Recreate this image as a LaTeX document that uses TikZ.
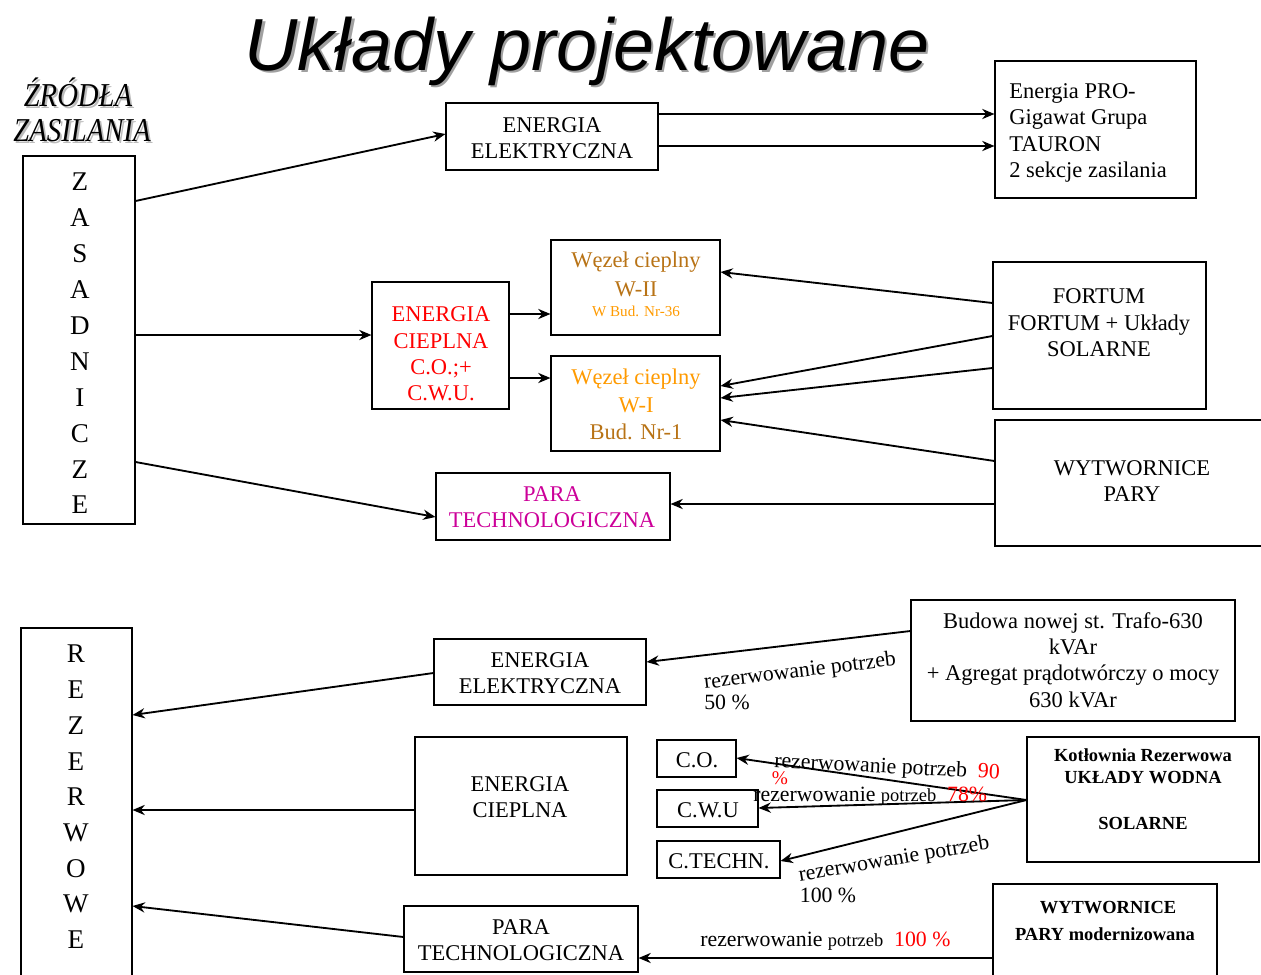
\documentclass[tikz,border=0pt]{standalone}
\usepackage{fontspec}
\setmainfont{Liberation Serif}
\newfontfamily\titlesans{Liberation Sans}
\usetikzlibrary{fit,arrows.meta}
\definecolor{tred}{HTML}{FF0000}
\definecolor{tmag}{HTML}{CC0099}
\definecolor{tbrown}{HTML}{B87316}
\definecolor{torange}{HTML}{FF9A00}
\definecolor{shadowgray}{HTML}{A0A0A0}
\begin{document}
\begin{tikzpicture}[x=0.02cm,y=-0.02cm,
  box/.style={draw,line width=0.6pt,inner sep=0pt},
  txt/.style={align=center,inner sep=0pt,font=\fontsize{12.8}{15}\selectfont},
  bold/.style={align=center,inner sep=0pt,font=\fontsize{10.5}{13}\selectfont\bfseries},
  colletter/.style={inner sep=0pt,font=\fontsize{15.4}{18}\selectfont},
  lbl/.style={inner sep=0pt,font=\fontsize{12.4}{14}\selectfont},
  arr/.style={line width=1.05pt,-{Stealth[length=7pt,width=5.8pt]}},
  ]
\useasboundingbox (0,0) rectangle (1261,974);

% ---------- titles ----------
\node[inner sep=0pt,anchor=base,text=shadowgray,font=\titlesans\itshape\fontsize{42}{46}\selectfont] (titleshadow) at (589.5,72.5) {Układy projektowane};
\node[inner sep=0pt,anchor=base,font=\titlesans\itshape\fontsize{42}{46}\selectfont] (title) at (587,70) {Układy projektowane};
\node[inner sep=0pt,anchor=base,xscale=0.86,text=shadowgray!70,font=\itshape\fontsize{19}{20}\selectfont] (zr1s) at (80,108) {ŹRÓDŁA};
\node[inner sep=0pt,anchor=base,xscale=0.86,font=\itshape\fontsize{19}{20}\selectfont] (zr1) at (78,106) {ŹRÓDŁA};
\node[inner sep=0pt,anchor=base,xscale=0.86,text=shadowgray!70,font=\itshape\fontsize{19}{20}\selectfont] (zr2s) at (84,143) {ZASILANIA};
\node[inner sep=0pt,anchor=base,xscale=0.86,font=\itshape\fontsize{19}{20}\selectfont] (zr2) at (82,141) {ZASILANIA};

% ---------- upper part: boxes ----------
\node[box,fit={(23,156) (135,524)}] (zas) {};
\foreach \l [count=\i] in {Z,A,S,A,D,N,I,C,Z,E}
  \node[colletter] (zl\i) at (80,{182+(\i-1)*35.9}) {\l};

\node[box,fit={(446,103) (658,170)}] (ee1) {};
\node[txt] (ee1t) at (552,138) {ENERGIA\\ELEKTRYCZNA};

\node[box,fit={(995,61) (1196,198)}] (epro) {};
\node[txt,align=left,anchor=west] (eprot) at (1009,133) {Energia PRO-\\Gigawat Grupa\\TAURON\\2 sekcje zasilania};

\node[box,fit={(372,282) (509,409)}] (ec1) {};
\node[txt,text=tred] (ec1t) at (441,354) {ENERGIA\\CIEPLNA\\C.O.;+\\C.W.U.};

\node[box,fit={(551,240) (720,335)}] (w2) {};
\node[txt,text=tbrown] (w2a) at (636,262) {Węzeł cieplny};
\node[txt,text=tbrown] (w2b) at (636,289) {W-II};
\node[inner sep=0pt,text=torange,font=\fontsize{8.6}{10}\selectfont] (w2c) at (636,311) {W Bud. Nr-36};

\node[box,fit={(551,356) (720,451)}] (w1) {};
\node[txt,text=torange] (w1a) at (636,379) {Węzeł cieplny};
\node[txt,text=torange] (w1b) at (636,405) {W-I};
\node[txt,text=tbrown] (w1c) at (636,432) {Bud. Nr-1};

\node[box,fit={(993,262) (1206,409)}] (fort) {};
\node[txt] (fortt) at (1099,323) {FORTUM\\FORTUM + Układy\\SOLARNE};

\node[box,fit={(995,420) (1280,546)}] (wyt1) {};
\node[txt] (wyt1t) at (1132,481) {WYTWORNICE\\PARY};

\node[box,fit={(436,473) (670,540)}] (para1) {};
\node[txt,text=tmag] (para1t) at (552,507) {PARA\\TECHNOLOGICZNA};

% ---------- upper part: connectors ----------
\draw[arr] (zas.east |- 0,201) -- (ee1.west |- 0,134);
\draw[arr] (ee1.east |- 0,114) -- (epro.west |- 0,114);
\draw[arr] (ee1.east |- 0,146) -- (epro.west |- 0,146);
\draw[arr] (zas.east |- 0,335) -- (ec1.west |- 0,335);
\draw[arr] (ec1.east |- 0,314) -- (w2.west |- 0,314);
\draw[arr] (ec1.east |- 0,378) -- (w1.west |- 0,378);
\draw[arr] (fort.west |- 0,303) -- (w2.east |- 0,272);
\draw[arr] (fort.west |- 0,336) -- (w1.east |- 0,386);
\draw[arr] (fort.west |- 0,368) -- (w1.east |- 0,398);
\draw[arr] (wyt1.west |- 0,461) -- (w1.east |- 0,420);
\draw[arr] (wyt1.west |- 0,504) -- (para1.east |- 0,504);
\draw[arr] (zas.east |- 0,462) -- (para1.west |- 0,517);

% ---------- lower part: boxes ----------
\node[box,fit={(21,628) (132,990)}] (rez) {};
\foreach \l [count=\i] in {R,E,Z,E,R,W,O,W,E}
  \node[colletter] (rl\i) at (76,{654+(\i-1)*35.75}) {\l};

\node[box,fit={(434,639) (646,705)}] (ee2) {};
\node[txt] (ee2t) at (540,673) {ENERGIA\\ELEKTRYCZNA};

\node[box,fit={(911,600) (1235,721)}] (bud) {};
\node[txt] (budt) at (1073,660) {Budowa nowej st. Trafo-630\\kVAr\\+ Agregat prądotwórczy o mocy\\630 kVAr};

\node[box,fit={(415,737) (627,875)}] (ec2) {};
\node[txt] (ec2t) at (520,797) {ENERGIA\\CIEPLNA};

\node[box,fit={(657,740) (736,777)}] (co) {};
\node[txt] (cot) at (697,760) {C.O.};
\node[box,fit={(657,790) (758,827)}] (cwu) {};
\node[txt] (cwut) at (708,810) {C.W.U};
\node[box,fit={(657,841) (780,878)}] (ctech) {};
\node[txt] (ctecht) at (719,861) {C.TECHN.};

\node[box,fit={(1027,737) (1259,862)}] (kot) {};
\node[bold] (kota) at (1143,755) {Kotłownia Rezerwowa};
\node[bold] (kotb) at (1143,778) {UKŁADY WODNA};
\node[bold] (kotc) at (1143,823) {SOLARNE};

\node[box,fit={(993,884) (1217,990)}] (wyt2) {};
\node[bold] (wyt2a) at (1108,908) {WYTWORNICE};
\node[bold] (wyt2b) at (1105,934) {PARY modernizowana};

\node[box,fit={(404,906) (638,972)}] (para2) {};
\node[txt] (para2t) at (521,940) {PARA\\TECHNOLOGICZNA};

% ---------- lower part: connectors ----------
\draw[arr] (ee2.west |- 0,673) -- (rez.east |- 0,715);
\draw[arr] (bud.west |- 0,631) -- (ee2.east |- 0,662);
\draw[arr] (ec2.west |- 0,810) -- (rez.east |- 0,810);
\draw[arr] (kot.west |- 0,800) -- (co.east |- 0,758);
\draw[arr] (kot.west |- 0,800) -- (cwu.east |- 0,808);
\draw[arr] (kot.west |- 0,800) -- (ctech.east |- 0,861);
\draw[arr] (wyt2.west |- 0,958) -- (para2.east |- 0,958);
\draw[arr] (para2.west |- 0,937) -- (rez.east |- 0,906);

% ---------- connector labels ----------
\node[lbl,rotate=7] (l1) at (800,672) {rezerwowanie potrzeb};
\node[lbl] (l1b) at (727,702) {50 \%};
\node[lbl,rotate=-3,anchor=west] (l2) at (774,762) {rezerwowanie potrzeb \ \textcolor{tred}{90}};
\node[lbl,text=tred,font=\fontsize{11}{12}\selectfont] (l2b) at (780,778) {\%};
\node[lbl,anchor=west] (l3) at (753,796) {rezerwowanie {\fontsize{10.5}{12}\selectfont potrzeb}\ \ \textcolor{tred}{78\%}};
\node[lbl,rotate=9.6] (l4) at (894,860) {rezerwowanie potrzeb};
\node[lbl] (l4b) at (828,895) {100 \%};
\node[lbl,anchor=west] (l5) at (700,941) {rezerwowanie {\fontsize{10.5}{12}\selectfont potrzeb}\ \ \textcolor{tred}{100 \%}};
\end{tikzpicture}
\end{document}
